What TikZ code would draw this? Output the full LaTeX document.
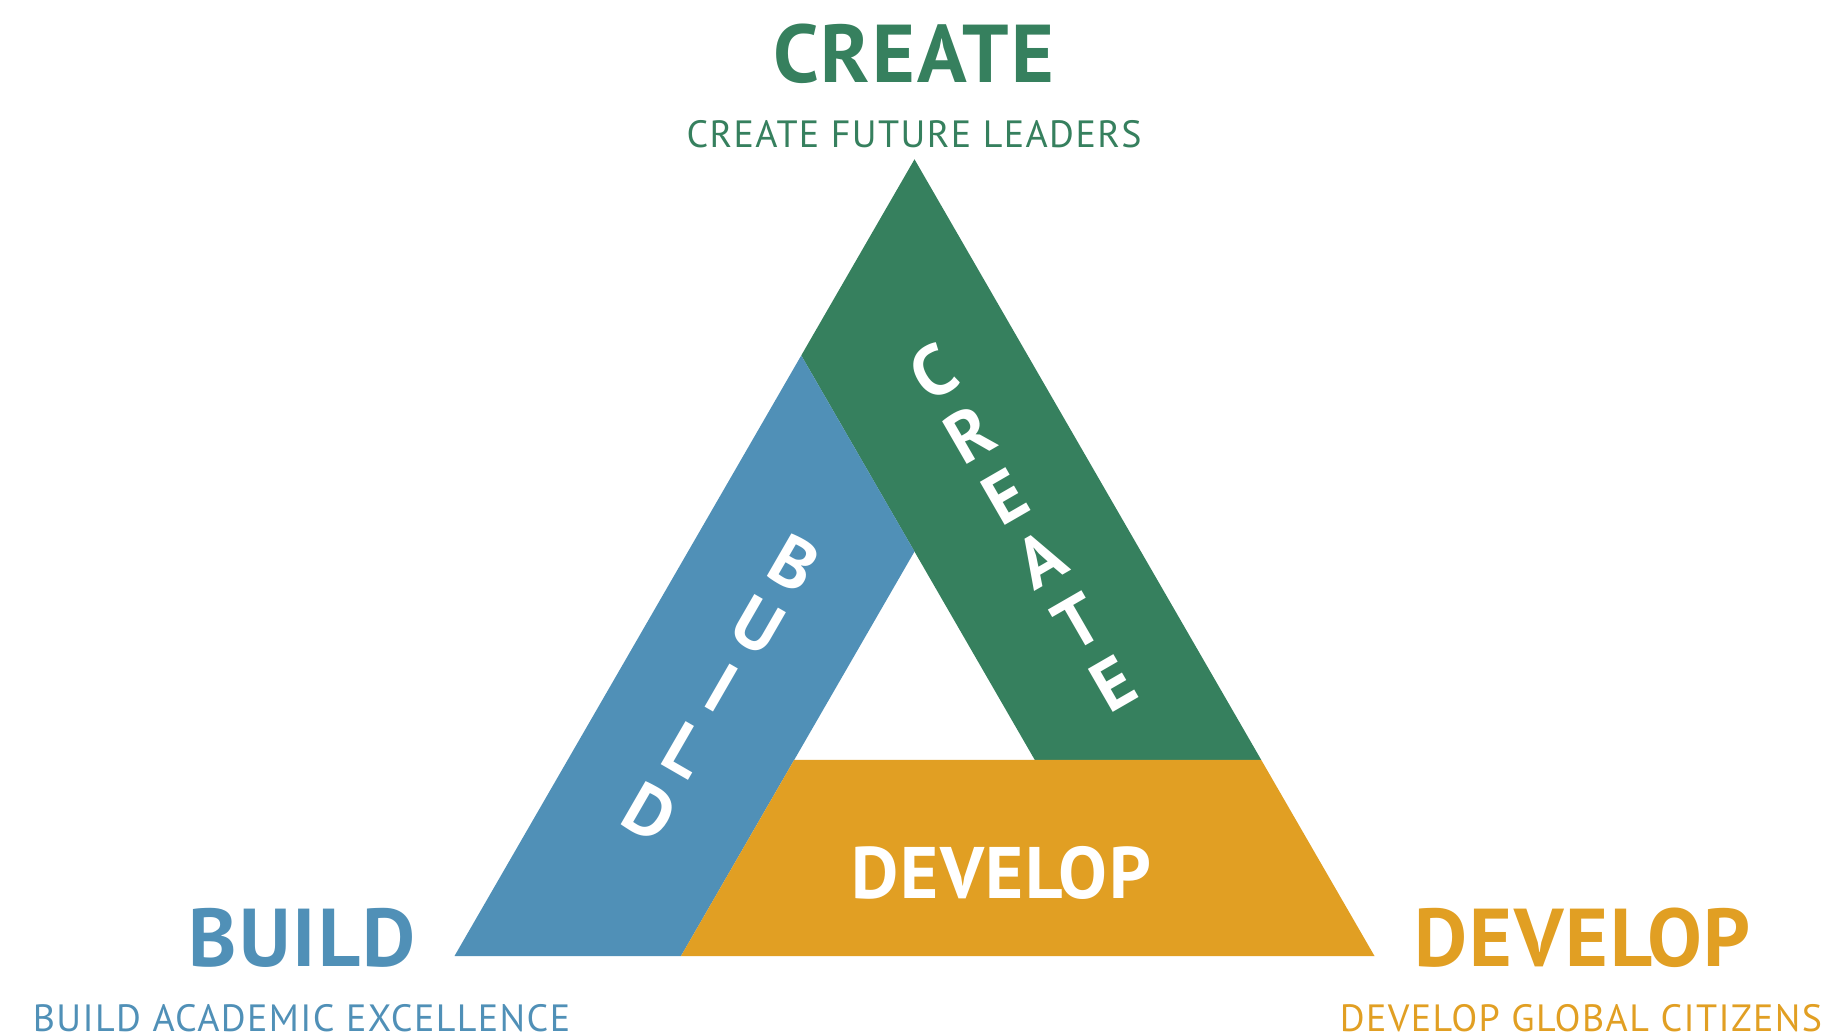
\documentclass[tikz,border=0pt]{standalone}
\usepackage{fontspec}
\setmainfont{PT Sans}
\newfontfamily\titlefont{PT Sans}[LetterSpace=2.5]
\newfontfamily\subfont{PT Sans}[LetterSpace=3.7]
\definecolor{creategreen}{HTML}{36805E}
\definecolor{buildblue}{HTML}{5090B7}
\definecolor{developgold}{HTML}{E19F23}

\begin{document}
\begin{tikzpicture}[x=1pt,y=-1pt,
  bigword/.style={inner sep=0pt,anchor=base,text depth=0pt,
    font=\titlefont\bfseries\fontsize{82}{82}\selectfont},
  subword/.style={inner sep=0pt,anchor=base,text depth=0pt,
    font=\subfont\fontsize{38}{38}\selectfont},
  bandletter/.style={inner sep=0pt,text=white,font=\bfseries\fontsize{71}{71}\selectfont,
    text height=50pt,text depth=0pt}]
\useasboundingbox (0,0) rectangle (1824,1035);

% corners of the triangle and of the three bands
\coordinate (top) at (914.5,159.3);
\coordinate (bl) at (454.5,956);
\coordinate (br) at (1374.5,956);
\coordinate (gl) at (801.25,355.45);
\coordinate (gr) at (1261.2,759.85);
\coordinate (gi) at (1034.75,759.85);
\coordinate (mid) at (914.5,551.5);
\coordinate (bi) at (681,956);
\coordinate (yi) at (794.25,759.85);

\fill[creategreen] (top) -- (gr) -- (gi) -- (gl) -- cycle;
\fill[buildblue] (gl) -- (bl) -- (bi) -- (mid) -- cycle;
\fill[developgold] (bi) -- (br) -- (gr) -- (yi) -- cycle;

% words in the bands
\foreach \ch [count=\i from 0] in {B,U,I,L,D}
  \node[bandletter,rotate=-30] (build\i) at (794-36*\i,563+62.35*\i) {\ch};
\foreach \ch [count=\i from 0] in {C,R,E,A,T,E}
  \node[bandletter,rotate=30] (create\i) at (933+36*\i,372+62.35*\i) {\ch};
\node[bandletter,anchor=base west,text height=,
  font=\titlefont\bfseries\fontsize{73}{73}\selectfont]
  (developband) at (851,898) {DEVELOP};

% titles
\node[bigword,text=creategreen] (create) at (913.5,82.7) {CREATE};
\node[subword,text=creategreen] (createsub) at (914,147.3) {CREATE FUTURE LEADERS};
\node[bigword,text=buildblue] (build) at (302.3,966.5) {BUILD};
\node[subword,text=buildblue] (buildsub) at (301.5,1031) {BUILD ACADEMIC EXCELLENCE};
\node[bigword,text=developgold] (develop) at (1582.5,966.5) {DEVELOP};
\node[subword,text=developgold] (developsub) at (1581,1031.5) {DEVELOP GLOBAL CITIZENS};
\end{tikzpicture}
\end{document}
